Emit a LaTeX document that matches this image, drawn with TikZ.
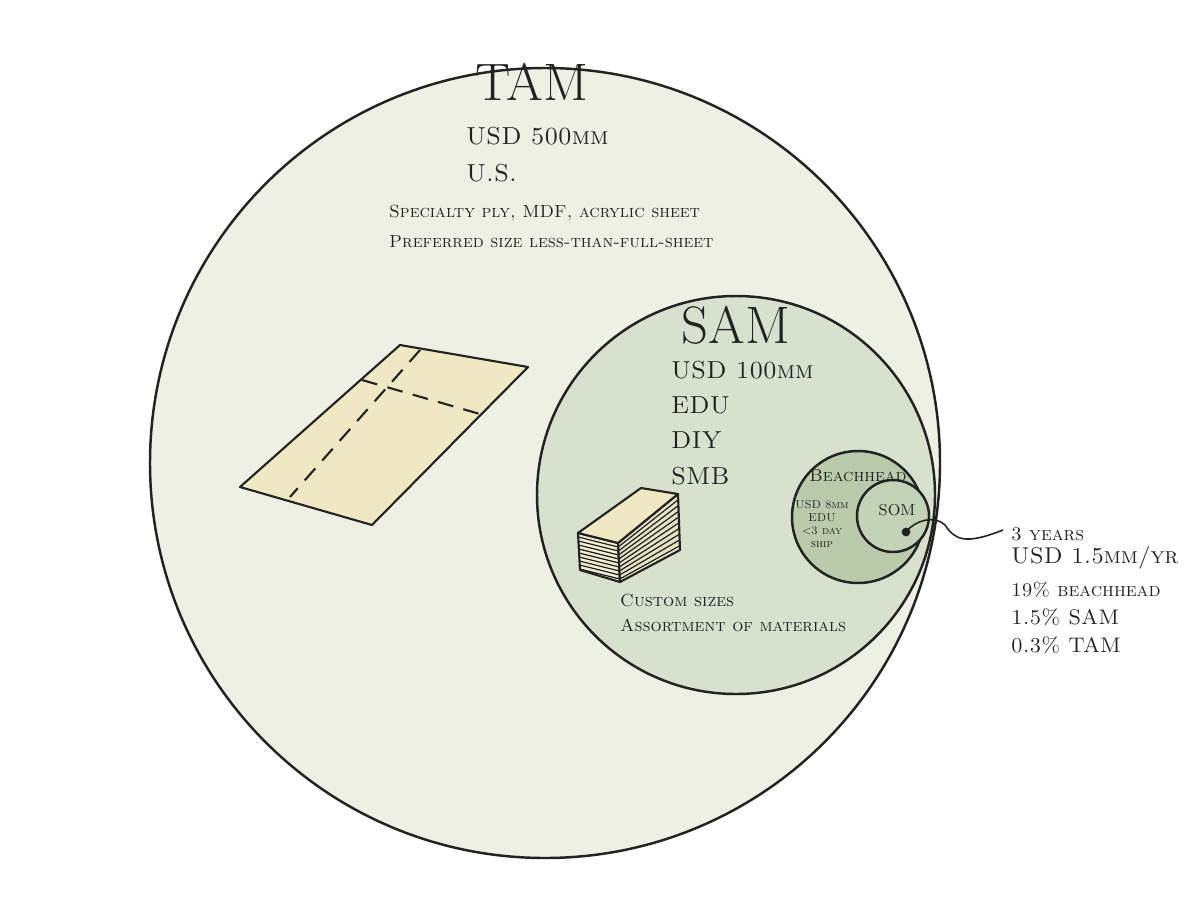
\documentclass[tikz,border=0pt]{standalone}
\usepackage{tikz}
\usetikzlibrary{positioning, calc}
\definecolor{tamfill}{HTML}{EDF0E3}
\definecolor{samfill}{HTML}{D7E1CD}
\definecolor{beachfill}{HTML}{B9CBAB}
\definecolor{somfill}{HTML}{C3D3B6}
\definecolor{plyfill}{HTML}{EFE8C2}
\definecolor{ink}{HTML}{222222}

\begin{document}
\begin{tikzpicture}[x=0.02cm, y=-0.02cm]
    % Styles
    \tikzstyle{market} = [circle, draw=ink, line width=1.4pt, inner sep=0pt]
    \tikzstyle{title} = [text=ink, font=\fontsize{30}{32}\selectfont]
    \tikzstyle{big} = [text=ink, anchor=west, font=\fontsize{14}{15}\selectfont\scshape]
    \tikzstyle{small} = [text=ink, anchor=west, font=\fontsize{10}{11}\selectfont\scshape]
    \tikzstyle{tiny} = [text=ink, align=center, font=\fontsize{6.5}{7.5}\selectfont\scshape]
    \tikzstyle{edge} = [draw=ink, line width=1.2pt, line join=round]

    \useasboundingbox (0,0) rectangle (1200,900);

    % --- CIRCLES ---
    \node [market, fill=tamfill, minimum size=790*0.02cm] (tam) at (545,463) {};
    \node [market, fill=samfill, minimum size=398*0.02cm] (sam) at (736,495) {};
    \node [market, fill=beachfill, minimum size=132*0.02cm] (beach) at (858,517) {};
    \node [market, fill=somfill, minimum size=72*0.02cm] (som) at (893,516) {};

    % --- TAM LABELS ---
    \node [title] (tamlbl) at (532,82) {TAM};
    \node [big] (tamusd) at (460,136) {USD 500mm};
    \node [big] (tamus) at (460,173) {U.S.};
    \node [small] (tamply) at (383,213) {Specialty ply, MDF, acrylic sheet};
    \node [small] (tamsize) at (383,242) {Preferred size less-than-full-sheet};

    % --- PLYWOOD SHEET ---
    \filldraw [edge, fill=plyfill] (240,487) -- (372,525) -- (528,367) -- (400,345) -- cycle;
    \draw [edge, dash pattern=on 9pt off 6pt] (362,380) -- (480,414);
    \draw [edge, dash pattern=on 9pt off 6pt] (420,350) -- (290,497);

    % --- SAM LABELS ---
    \node [title] (samlbl) at (736,325) {SAM};
    \node [big] (samusd) at (665,370) {USD 100mm};
    \node [big] (samedu) at (665,405) {EDU};
    \node [big] (samdiy) at (665,440) {DIY};
    \node [big] (samsmb) at (665,476) {SMB};

    % --- STACK OF SHEETS ---
    \filldraw [edge, fill=plyfill!70!white] (578,533) -- (618,543) -- (620,582) -- (580,570) -- cycle;
    \filldraw [edge, fill=plyfill!60!samfill] (618,543) -- (678,494) -- (680,550) -- (620,582) -- cycle;
    \foreach \k in {4,8,...,36} {
        \draw [draw=ink, line width=0.7pt]
            ($(578,533)+(0.05*\k,\k)$) -- ($(618,543)+(0.05*\k,\k)$) -- ($(678,494)+(0.05*\k,\k*56/39)$);
    }
    \filldraw [edge, fill=plyfill] (578,533) -- (618,543) -- (678,494) -- (641,488) -- cycle;
    \node [small] (samcustom) at (614,600) {Custom sizes};
    \node [small] (samassort) at (614,625) {Assortment of materials};

    % --- BEACHHEAD / SOM ---
    \node [text=ink, font=\fontsize{10}{11}\selectfont\scshape] (beachlbl) at (858,476) {Beachhead};
    \node [tiny] (beachtxt) at (822,524) {USD 8mm\\EDU\\{<}3 day\\ship};
    \node [text=ink, font=\fontsize{9}{10}\selectfont] (somlbl) at (897,510) {SOM};

    % --- SOM CALLOUT ---
    \fill [ink] (906,532) circle (2.5pt) coordinate (somdot);
    \coordinate (callend) at (1003,530);
    \draw [edge, line width=0.9pt] (somdot) .. controls (915,520) and (935,515) .. (945,525)
        .. controls (955,540) and (965,545) .. (callend);
    \node [small, font=\fontsize{11}{12}\selectfont\scshape] (som3y) at (1005,534) {3 years};
    \node [big, font=\fontsize{13}{14}\selectfont\scshape] (somusd) at (1005,558) {USD 1.5mm/yr};
    \node [small, font=\fontsize{11}{12}\selectfont\scshape] (sombeach) at (1005,590) {19\% beachhead};
    \node [small, font=\fontsize{12}{13}\selectfont\scshape] (somsam) at (1005,617) {1.5\% SAM};
    \node [small, font=\fontsize{12}{13}\selectfont\scshape] (somtam) at (1005,645) {0.3\% TAM};
\end{tikzpicture}
\end{document}
